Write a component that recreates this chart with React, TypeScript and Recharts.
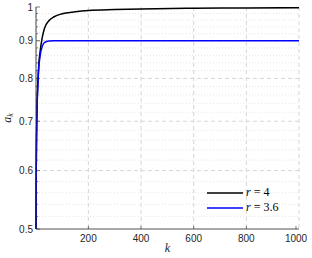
import React from 'react';
import { LineChart, Line, XAxis, YAxis, CartesianGrid, ReferenceLine } from 'recharts';

// values (log y axis)
const kValues = [1, 2, 4, 8, 12, 17, 25, 33, 50, 70, 100, 150, 200, 300, 400, 600, 800, 1000];
const aR4 = [0.5, 0.6, 0.7, 0.79, 0.84, 0.872, 0.91, 0.935, 0.958, 0.97, 0.979, 0.985, 0.989, 0.992, 0.994, 0.996, 0.997, 0.998];
const aR36 = [0.5, 0.6, 0.7, 0.78, 0.83, 0.86, 0.885, 0.895, 0.899, 0.9, 0.9, 0.9, 0.9, 0.9, 0.9, 0.9, 0.9, 0.9];

const xTicks = [200, 400, 600, 800, 1000];
const yMajor = [0.5, 0.6, 0.7, 0.8, 0.9, 1];
const yMinor = [
  0.52, 0.54, 0.56, 0.58, 0.62, 0.64, 0.66, 0.68, 0.72, 0.74, 0.76, 0.78,
  0.82, 0.84, 0.86, 0.88, 0.92, 0.94, 0.96, 0.98,
];
const yLabels = ['0.5', '0.6', '0.7', '0.8', '0.9', '1'];
const seriesNames = ['4', '3.6'];
const seriesColors = ['#000000', '#0000ff'];

const data = kValues.map((k, i) => ({ k, r4: aR4[i], r36: aR36[i] }));
const yAll = [...yMajor, ...yMinor].sort((a, b) => a - b);

const AX = '#262626';
const FONT = '"Liberation Sans", Arial, sans-serif';
const SERIF = '"Liberation Serif", "DejaVu Serif", serif';

const isMajor = (v: number) => yMajor.some((m) => Math.abs(m - v) < 1e-9);

const LeftTick = (props: any) => {
  const { x, y, payload } = props;
  const ax = x + 3;
  const major = isMajor(payload.value);
  const idx = yMajor.findIndex((m) => Math.abs(m - payload.value) < 1e-9);
  return (
    <g>
      <line x1={ax} x2={ax + (major ? 4 : 2)} y1={y} y2={y} stroke={AX} strokeWidth={0.6} />
      {major && (
        <text x={x} y={y} dy={3.5} textAnchor="end" fontSize={10} fill={AX} fontFamily={FONT}>
          {yLabels[idx]}
        </text>
      )}
    </g>
  );
};

const RightTick = (props: any) => {
  const { x, y, payload } = props;
  const major = isMajor(payload.value);
  return <line x1={x} x2={x - (major ? 4 : 2)} y1={y} y2={y} stroke={AX} strokeWidth={0.6} />;
};

const BottomTick = (props: any) => {
  const { x, y, payload } = props;
  return (
    <g>
      <line x1={x} x2={x} y1={y} y2={y - 3} stroke={AX} strokeWidth={0.6} />
      <text x={x} y={y + 13} textAnchor="middle" fontSize={10} fill={AX} fontFamily={FONT}>
        {payload.value}
      </text>
    </g>
  );
};

const TopTick = (props: any) => {
  const { x, y } = props;
  return <line x1={x} x2={x} y1={y} y2={y + 3} stroke={AX} strokeWidth={0.6} />;
};

const LegendBox = () => (
  <div
    style={{
      position: 'absolute',
      left: 207,
      top: 185,
      fontFamily: SERIF,
      fontSize: 12,
      color: '#000',
      lineHeight: '15px',
    }}
  >
    {seriesNames.map((n, i) => (
      <div key={n} style={{ display: 'flex', alignItems: 'center', whiteSpace: 'nowrap' }}>
        <svg width={37} height={4} style={{ marginRight: 2 }}>
          <line x1={0} x2={36} y1={2} y2={2} stroke={seriesColors[i]} strokeWidth={1.5} />
        </svg>
        <span>
          <i>r</i> = {n}
        </span>
      </div>
    ))}
  </div>
);

export default function App() {
  return (
    <div style={{ position: 'absolute', left: 0, top: 0, width: 312, height: 258, background: '#fff' }}>
      <LineChart width={312} height={258} data={data} margin={{ top: 7, right: 13, bottom: 0, left: 0 }}>
        <CartesianGrid horizontal={false} stroke="#d6d6d6" strokeDasharray="4 3" />
        {yMinor.map((v) => (
          <ReferenceLine key={'m' + v} y={v} stroke="#dedede" strokeDasharray="1 2" strokeWidth={0.8} />
        ))}
        {yMajor.slice(1, -1).map((v) => (
          <ReferenceLine key={'M' + v} y={v} stroke="#d6d6d6" strokeDasharray="4 3" />
        ))}
        <XAxis
          dataKey="k"
          type="number"
          domain={[1, 1000]}
          ticks={xTicks}
          height={29}
          tickSize={0}
          tickMargin={0}
          tick={<BottomTick />}
          axisLine={{ stroke: AX, strokeWidth: 0.8 }}
          tickLine={false}
          label={{
            value: 'k',
            position: 'insideBottom',
            offset: 6,
            style: { fontFamily: SERIF, fontStyle: 'italic', fontSize: 12, fill: AX },
          }}
        />
        <XAxis
          xAxisId="top"
          orientation="top"
          type="number"
          domain={[1, 1000]}
          ticks={xTicks}
          height={0}
          tickSize={0}
          tickMargin={0}
          tick={<TopTick />}
          axisLine={{ stroke: AX, strokeWidth: 0.8 }}
          tickLine={false}
        />
        <YAxis
          scale="log"
          type="number"
          domain={[0.5, 1]}
          allowDataOverflow
          ticks={yAll}
          width={36}
          tickSize={0}
          tickMargin={3}
          tick={<LeftTick />}
          axisLine={{ stroke: AX, strokeWidth: 0.8 }}
          tickLine={false}
          interval={0}
          label={({ viewBox }: any) => {
            const cx = viewBox.x + 11;
            const cy = viewBox.y + viewBox.height / 2;
            return (
              <text
                x={cx}
                y={cy}
                transform={`rotate(-90 ${cx} ${cy})`}
                textAnchor="middle"
                fontFamily={SERIF}
                fontStyle="italic"
                fontSize={12}
                fill={AX}
              >
                a
                <tspan fontSize={8} dy={2}>
                  k
                </tspan>
              </text>
            );
          }}
        />
        <YAxis
          yAxisId="right"
          orientation="right"
          scale="log"
          type="number"
          domain={[0.5, 1]}
          allowDataOverflow
          ticks={yAll}
          width={0}
          tickSize={0}
          tickMargin={0}
          tick={<RightTick />}
          axisLine={{ stroke: AX, strokeWidth: 0.8 }}
          tickLine={false}
          interval={0}
        />
        <Line type="monotone" dataKey="r4" stroke={seriesColors[0]} strokeWidth={1.5} dot={false} isAnimationActive={false} />
        <Line type="monotone" dataKey="r36" stroke={seriesColors[1]} strokeWidth={1.5} dot={false} isAnimationActive={false} />
      </LineChart>
      <LegendBox />
    </div>
  );
}
